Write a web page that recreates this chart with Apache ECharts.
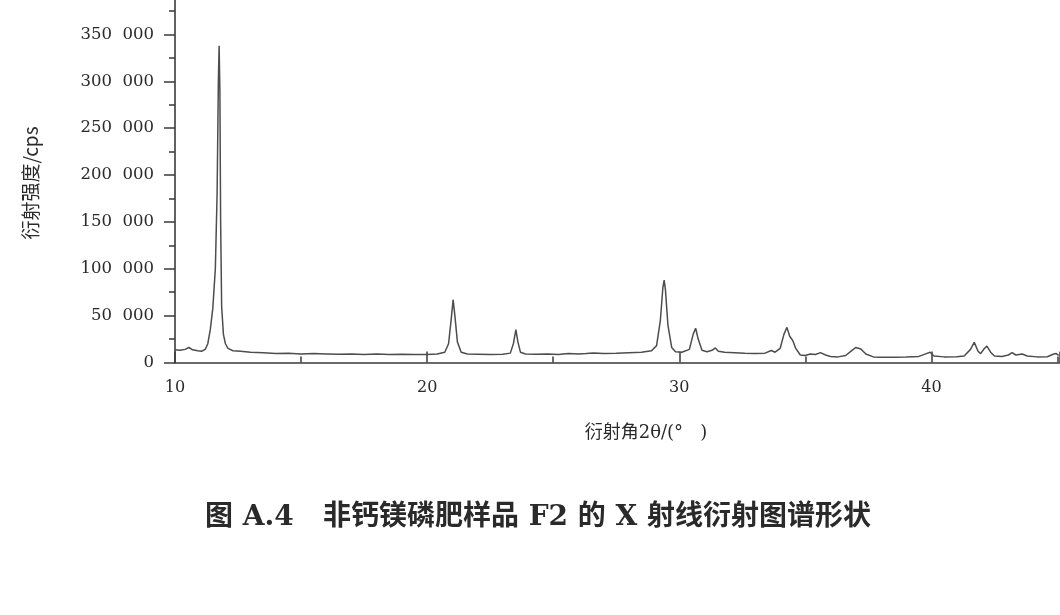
<!DOCTYPE html>
<html>
<head>
<meta charset="utf-8">
<script src="https://cdn.jsdelivr.net/npm/echarts@6/dist/echarts.min.js"></script>
<style>
html,body{margin:0;padding:0;background:#fff;}
#c{width:1060px;height:615px;}
</style>
</head>
<body>
<div id="c"></div>
<script>
// 2θ positions (degrees)
const twoTheta = [
  10.0,10.2,10.4,10.55,10.7,10.9,11.05,11.2,11.3,11.4,11.5,11.6,11.67,11.72,11.75,11.78,11.81,11.85,11.92,12.0,
  12.1,12.3,12.6,13.0,13.5,14.0,14.5,15.0,15.5,16.0,16.5,17.0,17.5,18.0,18.5,19.0,19.5,20.0,20.4,20.7,
  20.85,20.95,21.03,21.1,21.2,21.35,21.6,22.0,22.5,23.0,23.3,23.42,23.52,23.6,23.7,23.9,24.3,24.8,25.2,25.6,
  26.0,26.3,26.6,27.0,27.5,28.0,28.5,28.9,29.1,29.25,29.35,29.4,29.45,29.55,29.7,29.85,30.1,30.4,30.55,30.65,
  30.75,30.9,31.1,31.3,31.43,31.55,31.8,32.2,32.6,33.0,33.4,33.65,33.8,34.0,34.15,34.27,34.38,34.5,34.62,34.8,
  35.0,35.2,35.4,35.6,35.8,36.0,36.3,36.6,36.85,37.0,37.2,37.4,37.7,38.0,38.5,39.0,39.5,39.8,39.95,40.1,
  40.5,41.0,41.3,41.55,41.7,41.85,41.95,42.1,42.2,42.35,42.5,42.8,43.05,43.2,43.35,43.6,43.8,44.2,44.6,44.85,
  44.95,45.05
];
// diffraction intensity (cps)
const intensity = [
  13500,13000,14000,16000,13500,12500,12000,14000,20000,35000,58000,100000,180000,300000,338000,290000,150000,60000,30000,20000,
  15000,12500,12000,11000,10500,9500,9800,9000,9500,9200,8800,9000,8600,9000,8500,8800,8500,8600,9000,11000,
  20000,45000,67000,50000,22000,11000,9000,8800,8500,8700,10000,20000,35000,22000,11000,9000,8700,9000,8600,9500,
  9000,9500,10200,9600,10000,10500,11000,12500,18000,45000,80000,88000,78000,40000,16000,11500,11000,14000,30000,36500,
  25000,13000,11500,13000,15500,12000,11000,10500,9800,9500,10000,12800,11000,15000,30000,37500,28000,23500,15000,8000,
  7500,9000,8500,10500,8000,6500,6000,7500,13000,16000,14500,9000,6000,5500,5500,5800,6500,9500,11000,7000,
  6000,6200,7000,14000,21500,12000,9500,15000,17500,11000,7000,6500,8000,10500,8000,9000,7000,6000,6200,9000,
  9500,7500
];
// axis tick values
const yTicks = [0,50000,100000,150000,200000,250000,300000,350000];
const xTicks = [10,20,30,40];

const xName = '衍射角2θ/(°   )';
const yName = '衍射强度/cps';
const caption = '图 A.4   非钙镁磷肥样品 F2 的 X 射线衍射图谱形状';

const chart = echarts.init(document.getElementById('c'), null, {renderer:'canvas'});
const serif = "'DejaVu Serif','Noto Sans CJK SC',serif";
const cjk = "'Noto Sans CJK SC','DejaVu Serif',serif";

function fmtY(v){
  if (yTicks.indexOf(v) < 0) return '';
  if (v === 0) return '0';
  const s = String(v);
  return s.slice(0, s.length-3) + '  ' + s.slice(-3);
}

chart.setOption({
  animation:false,
  backgroundColor:'#fff',
  title:{
    text: caption,
    left: 200,
    top: 499,
    textStyle:{fontFamily:serif, fontWeight:'bold', fontSize:28, color:'#2a2a2a'}
  },
  grid:{left:175, right:0, top:-12.4, bottom:252.5, containLabel:false, outerBoundsMode:'none'},
  xAxis:{
    type:'value', min:10, max:45.1, interval:10,
    name:xName, nameLocation:'middle', nameGap:62,
    nameTextStyle:{fontFamily:serif, fontSize:18, color:'#2a2a2a', padding:[0,0,0,57]},
    axisLine:{show:true, lineStyle:{color:'#3a3a3a', width:1.6}},
    axisTick:{show:true, inside:true, length:11, lineStyle:{color:'#3a3a3a', width:1.5}},
    minorTick:{show:true, splitNumber:2, length:6, lineStyle:{color:'#3a3a3a', width:1.5}},
    axisLabel:{fontFamily:serif, fontSize:16, color:'#2a2a2a', margin:17,
      formatter:function(v){return xTicks.indexOf(v) >= 0 ? String(v) : '';}},
    splitLine:{show:false}, minorSplitLine:{show:false}
  },
  yAxis:{
    type:'value', min:0, max:400000, interval:50000,
    name:yName, nameLocation:'middle', nameGap:135, nameRotate:90,
    nameTextStyle:{fontFamily:cjk, fontSize:19, color:'#2a2a2a', padding:[0,16,0,0]},
    axisLine:{show:true, lineStyle:{color:'#3a3a3a', width:1.6}},
    axisTick:{show:true, inside:false, length:11, lineStyle:{color:'#3a3a3a', width:1.5}},
    minorTick:{show:true, splitNumber:2, length:6, lineStyle:{color:'#3a3a3a', width:1.5}},
    axisLabel:{fontFamily:serif, fontSize:16.5, color:'#2a2a2a', margin:21, formatter:fmtY},
    splitLine:{show:false}, minorSplitLine:{show:false}
  },
  series:[{
    type:'line',
    data: twoTheta.map(function(x,i){return [x, intensity[i]];}),
    showSymbol:false, symbol:'none', smooth:false,
    lineStyle:{color:'#4d4d4d', width:1.5},
    clip:true
  }]
});
</script>
</body>
</html>
